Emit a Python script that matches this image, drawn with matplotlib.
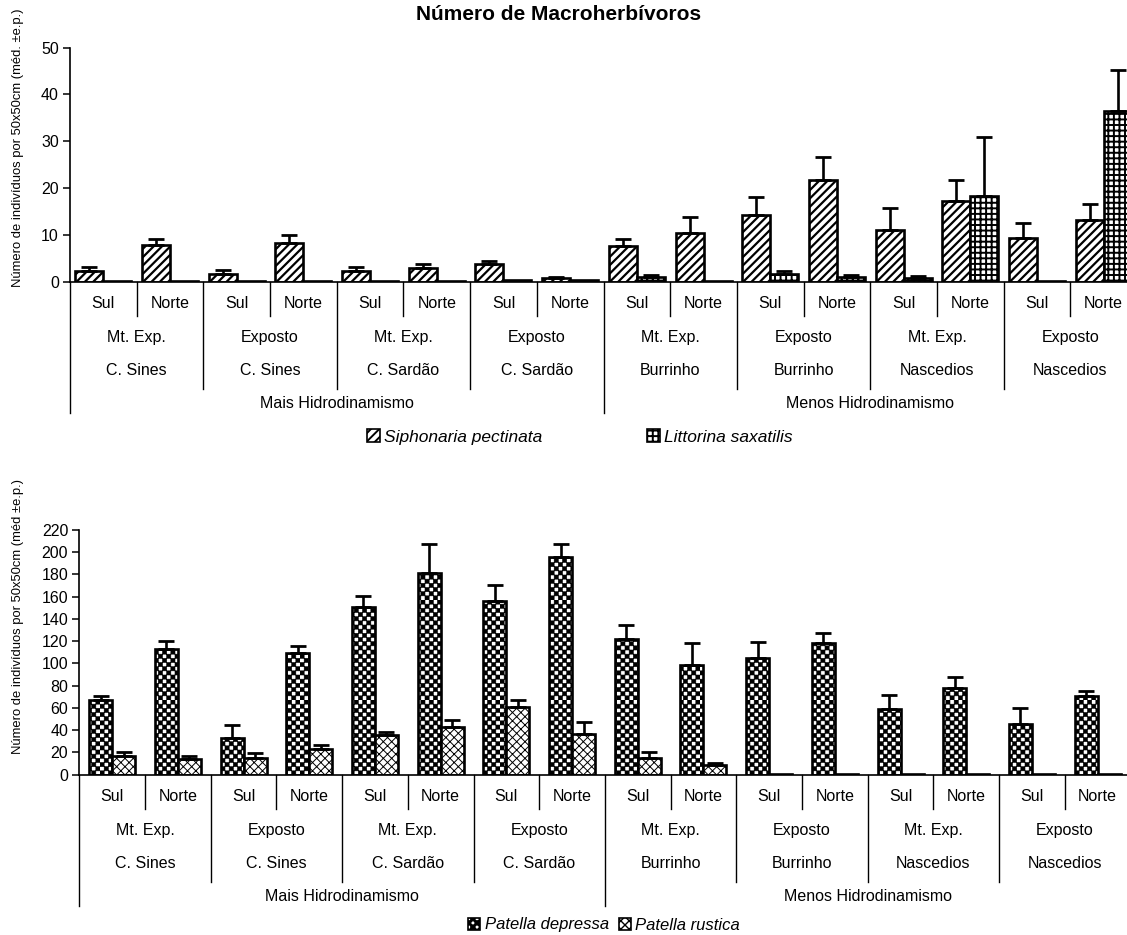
import numpy as np
import matplotlib
matplotlib.use("Agg")
import matplotlib.pyplot as plt
import matplotlib.hatch as mhatch
from matplotlib.path import Path
from matplotlib.patches import Patch

plt.rcParams["font.family"] = ["Liberation Sans", "DejaVu Sans"]

# ---------------- data ----------------
sites = ["Sul", "Norte"] * 8
exposure = ["Mt. Exp.", "Exposto"] * 4
locations = ["C. Sines", "C. Sines", "C. Sardão", "C. Sardão",
             "Burrinho", "Burrinho", "Nascedios", "Nascedios"]
regimes = ["Mais Hidrodinamismo", "Menos Hidrodinamismo"]

siphonaria_mean = [2.2, 7.7, 1.5, 8.2, 2.3, 2.8, 3.7, 0.7,
                   7.6, 10.4, 14.3, 21.6, 11.1, 17.2, 9.2, 13.1]
siphonaria_err = [1.0, 1.4, 0.9, 1.7, 0.7, 0.9, 0.6, 0.2,
                  1.5, 3.3, 3.8, 5.0, 4.5, 4.5, 3.2, 3.5]
littorina_mean = [0.1, 0.2, 0.1, 0.2, 0.2, 0.2, 0.3, 0.3,
                  1.0, 0.2, 1.6, 1.0, 0.8, 18.3, 0.1, 36.5]
littorina_err = [0, 0, 0, 0, 0, 0, 0, 0,
                 0.4, 0, 0.6, 0.3, 0.4, 12.6, 0, 8.7]

depressa_mean = [67, 113, 33, 109, 151, 181, 156, 196,
                 122, 99, 105, 118, 59, 78, 46, 71]
depressa_err = [4, 7.5, 12, 6.5, 9.5, 26.5, 14.5, 11.5,
                12.3, 19.8, 14.4, 9.6, 12.3, 9.9, 14.4, 4.3]
rustica_mean = [17, 14.5, 15, 23, 35.5, 42.5, 60.5, 37,
                15.3, 8.4, 0.6, 1.0, 0.3, 0.3, 0.3, 0.5]
rustica_err = [3.5, 2, 4.5, 4, 3, 6.5, 6.5, 10.5,
               5.1, 2.4, 0, 0, 0, 0, 0, 0]

top_ticks = [0, 10, 20, 30, 40, 50]
bottom_ticks = list(range(0, 221, 20))


# ---------------- checkerboard hatch ('*') ----------------
class CheckerHatch(mhatch.HatchPatternBase):
    """Filled checkerboard squares, selected by '*' in a hatch string."""

    def __init__(self, hatch, density):
        n = hatch.count("*") * density
        n += n % 2
        self.n = n
        self.num_vertices = (n * n // 2) * 5 if n else 0

    def set_vertices_and_codes(self, vertices, codes):
        n = self.n
        s = 1.0 / n
        sq = np.array([[0, 0], [1, 0], [1, 1], [0, 1], [0, 0]], float) * s
        cds = [Path.MOVETO, Path.LINETO, Path.LINETO, Path.LINETO,
               Path.CLOSEPOLY]
        k = 0
        for i in range(n):
            for j in range(n):
                if (i + j) % 2 == 0:
                    vertices[k:k + 5] = sq + [i * s, j * s]
                    codes[k:k + 5] = cds
                    k += 5


mhatch._hatch_types = [CheckerHatch if t is mhatch.Stars else t
                       for t in mhatch._hatch_types]

STYLE = {
    "sip": dict(hatch="////", hlw=1.6),
    "lit": dict(hatch="+++", hlw=1.4),
    "dep": dict(hatch="****", hlw=0.4),
    "rus": dict(hatch="xxxx", hlw=0.7),
}

W, H = 1127, 935
fig = plt.figure(figsize=(W / 100, H / 100), dpi=100)


def fx(px):
    return px / W


def fy(px):
    return 1 - px / H


def styled_bars(ax, x, heights, width, key):
    st = STYLE[key]
    with plt.rc_context({"hatch.linewidth": st["hlw"]}):
        bars = ax.bar(x, heights, width, facecolor="white", edgecolor="black",
                      linewidth=1.9, hatch=st["hatch"], zorder=2)
        for b in bars:
            if hasattr(b, "set_hatch_linewidth"):
                b.set_hatch_linewidth(st["hlw"])
    return bars


def upper_errors(ax, x, mean, err):
    mean = np.asarray(mean, float)
    err = np.asarray(err, float)
    keep = err > 0
    ax.errorbar(np.asarray(x)[keep], mean[keep],
                yerr=[np.zeros(keep.sum()), err[keep]],
                fmt="none", ecolor="black", elinewidth=1.9,
                capsize=6, capthick=2.0, zorder=3)


def style_axis(ax, ticks, xmax):
    ax.set_xlim(0, xmax)
    ax.set_ylim(ticks[0], ticks[-1])
    ax.set_yticks(ticks)
    ax.set_xticks([])
    for side in ("top", "right"):
        ax.spines[side].set_visible(False)
    ax.spines["left"].set_linewidth(1.2)
    ax.spines["bottom"].set_linewidth(1.2)
    ax.tick_params(axis="y", direction="out", length=5, width=1.1,
                   labelsize=11.5, pad=3)
    ax.patch.set_visible(False)


def category_labels(ax, axes_height_px):
    """Three-level category table below the x axis (offsets in pixels)."""
    tr = ax.get_xaxis_transform()

    def ya(px):
        return -px / axes_height_px

    for k in range(len(sites)):
        if k % 8 == 0:
            depth = 131
        elif k % 2 == 0:
            depth = 107
        else:
            depth = 34
        ax.plot([float(k), float(k)], [0.0, ya(depth)], transform=tr,
                color="black", lw=1.0, clip_on=False)
    kw = dict(transform=tr, ha="center", va="center", fontsize=11.5,
              clip_on=False)
    for i, s in enumerate(sites):
        ax.text(i + 0.5, ya(22), s, **kw)
    for j, e in enumerate(exposure * 2):
        ax.text(2.0 * j + 1.0, ya(56), e, **kw)
    for j, loc in enumerate(locations):
        ax.text(2.0 * j + 1.0, ya(89), loc, **kw)
    for j, r in enumerate(regimes):
        ax.text(8.0 * j + 4.0, ya(122), r, **kw)


def legend_handle(key):
    return Patch(facecolor="white", edgecolor="black", linewidth=1.2,
                 hatch=STYLE[key]["hatch"])


centers = np.arange(len(sites)) + 0.5
n_cat = len(sites)

# ---------------- top panel: Siphonaria / Littorina ----------------
# one category spans 1067/16 px; the last one runs past the right edge
top_left, top_right = 70, 1137
top_base, top_top = 281.5, 47.5
ax1 = fig.add_axes([fx(top_left), fy(top_base), (W - top_left) / W,
                    (top_base - top_top) / H])
w1 = 0.42
styled_bars(ax1, centers - w1 / 2, siphonaria_mean, w1, "sip")
styled_bars(ax1, centers + w1 / 2, littorina_mean, w1, "lit")
upper_errors(ax1, centers - w1 / 2, siphonaria_mean, siphonaria_err)
upper_errors(ax1, centers + w1 / 2, littorina_mean, littorina_err)
style_axis(ax1, top_ticks,
           n_cat * (W - top_left) / (top_right - top_left))
category_labels(ax1, top_base - top_top)

fig.text(fx(559), fy(14), "Número de Macroherbívoros", ha="center",
         va="center", fontsize=15, fontweight="bold")
fig.text(fx(18), fy(148), "Número de indivíduos por 50x50cm (méd. ±e.p.)",
         rotation=90, ha="center", va="center", fontsize=9.4)

with plt.rc_context({"hatch.linewidth": 1.4}):
    leg1 = fig.legend([legend_handle("sip"), legend_handle("lit")],
                      ["Siphonaria pectinata", "Littorina saxatilis"],
                      loc="center", bbox_to_anchor=(fx(580), fy(437)),
                      ncol=2, frameon=False, handlelength=0.75,
                      handleheight=0.75, handletextpad=0.25,
                      columnspacing=6.0,
                      prop=dict(style="italic", size=12.5))

# ---------------- bottom panel: Patella ----------------
bot_left, bot_right = 79.3, 1130.5
bot_base, bot_top = 774.7, 530
ax2 = fig.add_axes([fx(bot_left), fy(bot_base), (W - bot_left) / W,
                    (bot_base - bot_top) / H])
w2 = 0.35
styled_bars(ax2, centers - w2 / 2, depressa_mean, w2, "dep")
styled_bars(ax2, centers + w2 / 2, rustica_mean, w2, "rus")
upper_errors(ax2, centers - w2 / 2, depressa_mean, depressa_err)
upper_errors(ax2, centers + w2 / 2, rustica_mean, rustica_err)
style_axis(ax2, bottom_ticks,
           n_cat * (W - bot_left) / (bot_right - bot_left))
category_labels(ax2, bot_base - bot_top)

fig.text(fx(18), fy(617), "Número de indivíduos por 50x50cm (méd ±e.p.)",
         rotation=90, ha="center", va="center", fontsize=9.4)

leg2 = fig.legend([legend_handle("dep"), legend_handle("rus")],
                  ["Patella depressa", "Patella rustica"],
                  loc="center", bbox_to_anchor=(fx(604), fy(925)),
                  ncol=2, frameon=False, handlelength=0.75,
                  handleheight=0.75, handletextpad=0.25, columnspacing=0.6,
                  prop=dict(style="italic", size=12))

fig.savefig("out.png", dpi=100)
